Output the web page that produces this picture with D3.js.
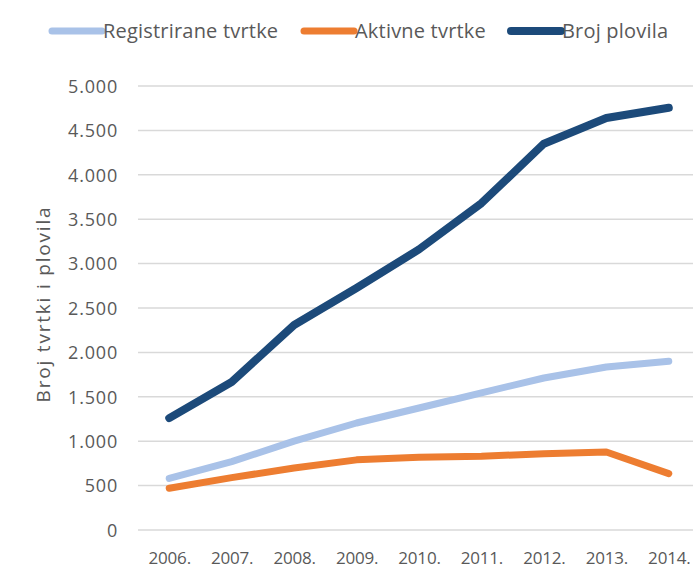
<!DOCTYPE html>
<html>
<head>
<meta charset="utf-8">
<script src="https://cdn.jsdelivr.net/npm/d3@7"></script>
<style>
  body { margin: 0; background: #fff; }
  text { font-family: "Open Sans", sans-serif; fill: #595959; }
</style>
</head>
<body>
<div id="chart"></div>
<script>
// data
var years = ["2006.", "2007.", "2008.", "2009.", "2010.", "2011.", "2012.", "2013.", "2014."];
var registrirane = [580, 770, 1000, 1205, 1374, 1545, 1712, 1835, 1900];
var aktivne = [470, 590, 698, 790, 820, 830, 860, 878, 635];
var plovila = [1260, 1667, 2309, 2725, 3160, 3680, 4350, 4640, 4755];
var yTicks = [0, 500, 1000, 1500, 2000, 2500, 3000, 3500, 4000, 4500, 5000];

var series = [
  {name: "Registrirane tvrtke", values: registrirane, color: "#a9c2e8", width: 7},
  {name: "Aktivne tvrtke", values: aktivne, color: "#ed7d31", width: 7},
  {name: "Broj plovila", values: plovila, color: "#1c4a7a", width: 8}
];

var width = 693, height = 585;

var svg = d3.select("#chart")
    .append("svg")
    .attr("width", width)
    .attr("height", height);

var x = d3.scalePoint()
    .domain(years)
    .range([138, 700])
    .padding(0.5);

var y = d3.scaleLinear()
    .domain([0, 5000])
    .range([530, 86]);

// grid
svg.append("g")
    .selectAll("line")
    .data(yTicks)
    .enter().append("line")
    .attr("x1", 138)
    .attr("x2", width)
    .attr("y1", function(d) { return y(d); })
    .attr("y2", function(d) { return y(d); })
    .attr("stroke", "#d9d9d9")
    .attr("stroke-width", 1.5);

// y axis labels
var fmt = function(d) { return d3.format(",")(d).replace(/,/g, "."); };
var yAxis = d3.axisLeft(y).tickValues(yTicks).tickFormat(fmt).tickSize(0).tickPadding(0);
var gy = svg.append("g").attr("transform", "translate(118,0)").call(yAxis);
gy.select(".domain").remove();
gy.selectAll("text")
    .attr("font-size", 18)
    .attr("letter-spacing", 0.8)
    .style("font-family", null)
    .attr("dy", "0.35em");

// x axis labels
var xAxis = d3.axisBottom(x).tickSize(0).tickPadding(0);
var gx = svg.append("g").attr("transform", "translate(0,552)").call(xAxis);
gx.select(".domain").remove();
gx.selectAll("text")
    .attr("font-size", 17)
    .attr("letter-spacing", -0.2)
    .style("font-family", null)
    .attr("dy", "0.71em");

// y title
svg.append("text")
    .attr("transform", "translate(50,304) rotate(-90)")
    .attr("text-anchor", "middle")
    .attr("font-size", 19)
    .attr("letter-spacing", 1.8)
    .text("Broj tvrtki i plovila");

// lines
var line = d3.line()
    .x(function(d, i) { return x(years[i]); })
    .y(function(d) { return y(d); });

svg.append("g")
    .selectAll("path")
    .data(series)
    .enter().append("path")
    .attr("d", function(d) { return line(d.values); })
    .attr("fill", "none")
    .attr("stroke", function(d) { return d.color; })
    .attr("stroke-width", function(d) { return d.width; })
    .attr("stroke-linecap", "round")
    .attr("stroke-linejoin", "round");

// legend
var legendX = [52, 304, 511];
var leg = svg.append("g")
    .selectAll("g")
    .data(series)
    .enter().append("g")
    .attr("transform", function(d, i) { return "translate(" + legendX[i] + ",31)"; });

leg.append("line")
    .attr("x1", 0).attr("x2", 50)
    .attr("stroke", function(d) { return d.color; })
    .attr("stroke-width", function(d) { return d.width; })
    .attr("stroke-linecap", "round");

leg.append("text")
    .attr("x", 51)
    .attr("dy", "0.35em")
    .attr("font-size", 20)
    .attr("letter-spacing", 0.2)
    .text(function(d) { return d.name; });
</script>
</body>
</html>
